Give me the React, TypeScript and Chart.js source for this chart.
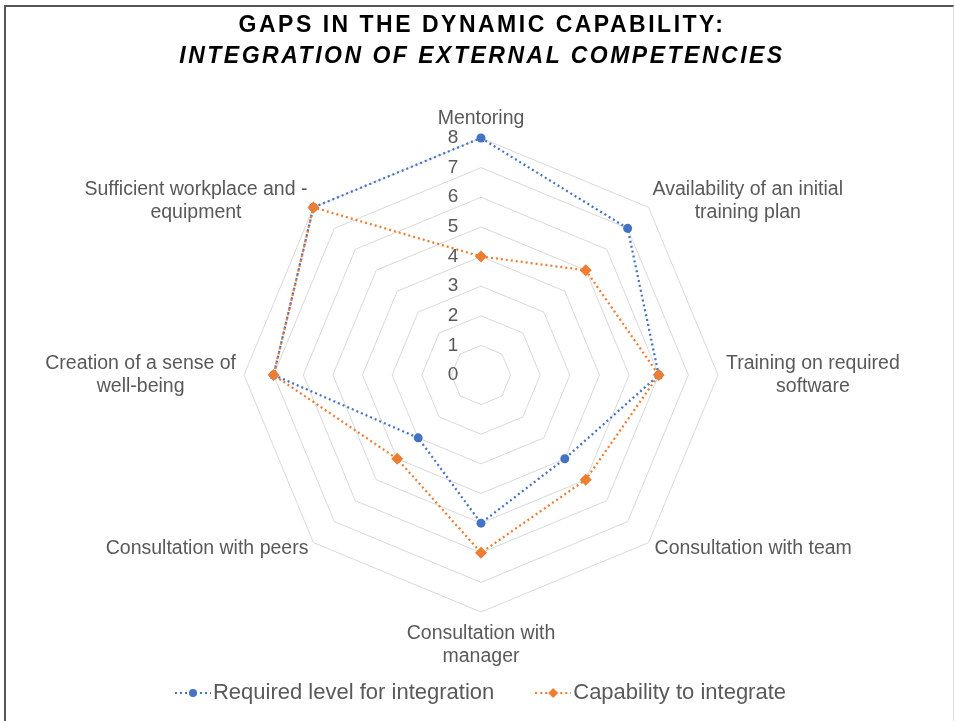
import React, { useEffect, useRef } from 'react';
import { Chart, registerables } from 'chart.js';

Chart.register(...registerables);

// ---- data ----
const categoryLines: string[][] = [
  ['Mentoring'],
  ['Availability of an initial', 'training plan'],
  ['Training on required', 'software'],
  ['Consultation with team'],
  ['Consultation with', 'manager'],
  ['Consultation with peers'],
  ['Creation of a sense of', 'well-being'],
  ['Sufficient workplace and -', 'equipment'],
];
const categories = categoryLines.map((l) => l.join(' '));
const requiredLevel = [8, 7, 6, 4, 5, 3, 7, 8];
const capability = [4, 5, 6, 5, 6, 4, 7, 8];
const seriesNames = ['Required level for integration', 'Capability to integrate'];
const titleLines = ['GAPS IN THE DYNAMIC CAPABILITY:', 'INTEGRATION OF EXTERNAL COMPETENCIES'];
const scaleMin = 0;
const scaleMax = 8;
const scaleStep = 1;

// ---- style ----
const BLUE = '#4472C4';
const ORANGE = '#ED7D31';
const TEXT = '#595959';
const GRID = '#d9d9d9';
const FONT = '"Liberation Sans", Arial, Helvetica, sans-serif';
const LABEL_SIZE = 19.5;
const LEGEND_SIZE = 22;
const LEGEND_PAD = 50;

function makeMarker(color: string, kind: 'circle' | 'diamond') {
  const c = document.createElement('canvas');
  c.width = 36;
  c.height = 12;
  const x = c.getContext('2d')!;
  x.strokeStyle = color;
  x.lineWidth = 2;
  x.setLineDash([2, 3]);
  x.beginPath();
  x.moveTo(0, 6);
  x.lineTo(36, 6);
  x.stroke();
  x.fillStyle = color;
  x.beginPath();
  if (kind === 'circle') {
    x.arc(18, 6, 4, 0, Math.PI * 2);
  } else {
    x.moveTo(18, 1);
    x.lineTo(23, 6);
    x.lineTo(18, 11);
    x.lineTo(13, 6);
    x.closePath();
  }
  x.fill();
  return c;
}

const tickPlugin = {
  id: 'leftTicks',
  beforeDatasetsDraw(chart: any) {
    const s = chart.scales.r;
    const ctx = chart.ctx;
    ctx.save();
    ctx.font = `19px ${FONT}`;
    ctx.fillStyle = TEXT;
    ctx.textAlign = 'center';
    ctx.textBaseline = 'middle';
    s.ticks.forEach((t: any) => {
      const d = s.getDistanceFromCenterForValue(t.value);
      ctx.fillText(String(t.label), s.xCenter - 28, s.yCenter - d);
    });
    ctx.restore();
  },
};

const pointLabelPlugin = {
  id: 'centeredPointLabels',
  beforeDatasetsDraw(chart: any) {
    const s = chart.scales.r;
    const ctx = chart.ctx;
    const lh = 23;
    ctx.save();
    ctx.font = `${LABEL_SIZE}px ${FONT}`;
    ctx.fillStyle = TEXT;
    ctx.textAlign = 'center';
    ctx.textBaseline = 'middle';
    categoryLines.forEach((lines, i) => {
      const p = s.getPointPosition(i, s.drawingArea);
      const deg = Math.round((s.getIndexAngle(i) * 180) / Math.PI) % 360;
      const w = Math.max(...lines.map((l) => ctx.measureText(l).width));
      const h = lines.length * lh;
      let left: number;
      let top: number;
      if (deg === 0) {
        left = p.x - w / 2;
        top = p.y - 8 - h;
      } else if (deg === 180) {
        left = p.x - w / 2;
        top = p.y + 10;
      } else if (deg === 90) {
        left = p.x + 8;
        top = p.y - h / 2;
      } else if (deg === 270) {
        left = p.x - 8 - w;
        top = p.y - h / 2;
      } else if (deg < 90) {
        left = p.x + 4;
        top = p.y - 6 - h / 2;
      } else if (deg < 180) {
        left = p.x + 6;
        top = p.y + 6 - h / 2;
      } else if (deg < 270) {
        left = p.x - 5 - w;
        top = p.y + 6 - h / 2;
      } else {
        left = p.x - 6 - w;
        top = p.y - 6 - h / 2;
      }
      lines.forEach((ln, j) => ctx.fillText(ln, left + w / 2, top + lh * j + lh / 2));
    });
    ctx.restore();
  },
};

const legendShiftPlugin = {
  id: 'legendShift',
  afterLayout(chart: any) {
    const lg = chart.legend;
    if (!lg) return;
    const target = 693 - LEGEND_PAD - LEGEND_SIZE / 2;
    const dy = target - lg.top;
    lg.top += dy;
    lg.bottom += dy;
    lg.left += 4;
    lg.right += 4;
  },
};

export default function App() {
  const ref = useRef<HTMLCanvasElement>(null);

  useEffect(() => {
    const markers = [makeMarker(BLUE, 'circle'), makeMarker(ORANGE, 'diamond')];
    const chart = new Chart(ref.current!, {
      type: 'radar',
      data: {
        labels: categories,
        datasets: [
          {
            label: seriesNames[0],
            data: requiredLevel,
            borderColor: BLUE,
            backgroundColor: BLUE,
            pointBackgroundColor: BLUE,
            borderWidth: 2.25,
            borderDash: [2, 3],
            pointStyle: 'circle',
            pointRadius: 4.5,
            pointBorderWidth: 0,
            fill: false,
            order: 1,
          },
          {
            label: seriesNames[1],
            data: capability,
            borderColor: ORANGE,
            backgroundColor: ORANGE,
            pointBackgroundColor: ORANGE,
            borderWidth: 2.25,
            borderDash: [2, 3],
            pointStyle: 'rectRot',
            pointRadius: 6,
            pointBorderWidth: 0,
            fill: false,
            order: 0,
          },
        ],
      },
      options: {
        responsive: false,
        animation: false,
        events: [],
        // legend height = size + pad + 10; chart area spans 138..612
        layout: { padding: { top: 138, left: 7, right: 0, bottom: 721 - 612 - (LEGEND_SIZE + LEGEND_PAD + 10) } },
        scales: {
          r: {
            min: scaleMin,
            max: scaleMax,
            ticks: { stepSize: scaleStep, display: false },
            grid: { color: GRID, lineWidth: 1 },
            angleLines: { display: false },
            pointLabels: { display: false },
          },
        },
        plugins: {
          tooltip: { enabled: false },
          title: { display: false },
          legend: {
            display: true,
            position: 'bottom',
            labels: {
              usePointStyle: true,
              pointStyleWidth: 18,
              padding: LEGEND_PAD,
              color: TEXT,
              font: { size: LEGEND_SIZE, family: FONT },
              sort: (a: any, b: any) => a.datasetIndex - b.datasetIndex,
              generateLabels: (c: any) => {
                const items = (Chart.defaults.plugins.legend.labels as any).generateLabels(c);
                items.forEach((it: any) => {
                  it.pointStyle = markers[it.datasetIndex];
                  it.lineWidth = 0;
                });
                return items;
              },
            },
          },
        },
      },
      plugins: [tickPlugin, pointLabelPlugin, legendShiftPlugin],
    } as any);
    return () => chart.destroy();
  }, []);

  return (
    <div
      style={{
        position: 'absolute',
        left: 0,
        top: 0,
        width: 955,
        height: 721,
        overflow: 'hidden',
        background: '#fff',
      }}
    >
      <canvas ref={ref} width={955} height={721} style={{ position: 'absolute', left: 0, top: 0 }} />
      <div
        style={{
          position: 'absolute',
          left: 4,
          top: 5,
          width: 947,
          height: 800,
          borderTop: '2px solid #555',
          borderLeft: '2px solid #555',
          borderRight: '1px solid #e0e0e0',
          pointerEvents: 'none',
        }}
      />
      <div
        style={{
          position: 'absolute',
          left: 0,
          top: 9,
          width: 964,
          textAlign: 'center',
          fontFamily: FONT,
          fontWeight: 'bold',
          fontSize: 23,
          letterSpacing: '2.5px',
          lineHeight: '31px',
          color: '#000',
        }}
      >
        <div>{titleLines[0]}</div>
        <div style={{ fontStyle: 'italic' }}>{titleLines[1]}</div>
      </div>
    </div>
  );
}
